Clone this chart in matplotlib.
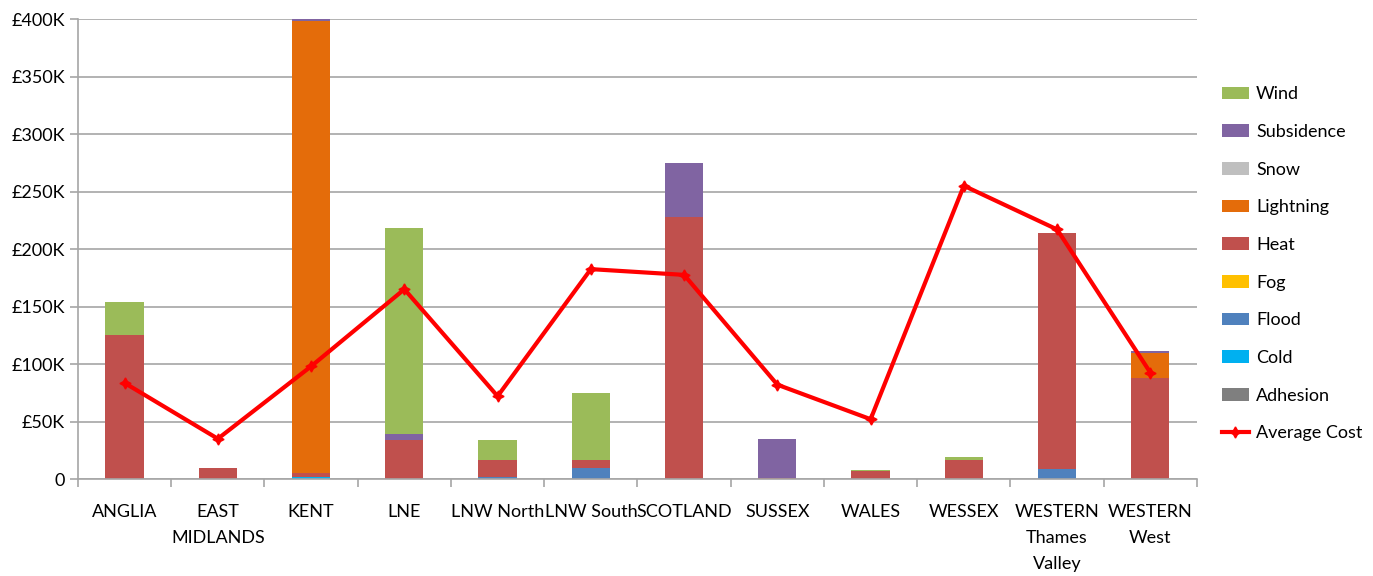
import numpy as np
import matplotlib
matplotlib.use('Agg')
import matplotlib.pyplot as plt
from matplotlib.ticker import FuncFormatter

plt.rcParams['font.family'] = ['Lato', 'DejaVu Sans']

# 地域ごとのコスト (単位: £K)
regions = ['ANGLIA', 'EAST\nMIDLANDS', 'KENT', 'LNE', 'LNW North', 'LNW South',
           'SCOTLAND', 'SUSSEX', 'WALES', 'WESSEX', 'WESTERN\nThames\nValley',
           'WESTERN\nWest']

adhesion   = [0, 0, 0, 0, 0, 0, 0, 0, 0, 0, 0, 0]
cold       = [0, 0, 2, 0, 0, 0, 0, 0, 0, 0, 0, 0]
flood      = [0, 0, 0, 0, 1.5, 10, 0, 0, 0, 0, 8.7, 0]
fog        = [0, 0, 0, 0, 0, 0, 0, 0, 0, 0, 0, 0]
heat       = [125, 10, 3.5, 34, 15, 6.5, 227.5, 1, 7, 16.5, 205, 87.5]
lightning  = [0, 0, 393, 0, 0, 0, 0, 0, 0, 0, 0, 22]
snow       = [0, 0, 0, 0, 0, 0, 0, 0, 0, 0, 0, 0]
subsidence = [0, 0, 2, 5, 0, 0, 47, 34, 0, 0, 0, 2]
wind       = [29, 0, 0, 179, 17, 58, 0, 0, 1, 2.3, 0, 0]

average_cost = [83.5, 35, 98, 165, 72, 182.5, 177.5, 82, 52, 255, 217, 92.5]

series = [
    ('Adhesion', adhesion, '#7F7F7F'),
    ('Cold', cold, '#00B0F0'),
    ('Flood', flood, '#4F81BD'),
    ('Fog', fog, '#FFC000'),
    ('Heat', heat, '#C0504D'),
    ('Lightning', lightning, '#E46C0A'),
    ('Snow', snow, '#BFBFBF'),
    ('Subsidence', subsidence, '#8064A2'),
    ('Wind', wind, '#9BBB59'),
]

fig = plt.figure(figsize=(13.73, 5.76), dpi=100)
ax = fig.add_axes([0.0568, 0.1684, 0.8150, 0.7986])

x = np.arange(len(regions))
bottom = np.zeros(len(regions))
handles = []
for name, vals, color in series:
    b = ax.bar(x, vals, width=0.41, bottom=bottom, color=color, label=name, zorder=2)
    bottom += np.array(vals)
    handles.append(b)

line, = ax.plot(x, average_cost, color='#FF0000', linewidth=3, marker=(4, 1, 0),
                markersize=8, label='Average Cost', zorder=3)

ax.set_xlim(-0.5, len(regions) - 0.5)
ax.set_ylim(0, 400)
ax.set_yticks(np.arange(0, 401, 50))
ax.yaxis.set_major_formatter(FuncFormatter(lambda v, p: '0' if v == 0 else f'£{int(v)}K'))
ax.yaxis.grid(True, color='#A6A6A6', linewidth=1.2, zorder=0)
ax.set_axisbelow(True)

ax.set_xticks(x)
ax.set_xticklabels(regions, fontsize=13, linespacing=1.75, va='top')
ax.set_xticks(np.arange(-0.5, len(regions), 1), minor=True)
ax.tick_params(axis='x', which='major', length=0, pad=18)
ax.tick_params(axis='x', which='minor', length=6, color='#A6A6A6', width=1.2)
ax.tick_params(axis='y', length=6, color='#A6A6A6', width=1.2, labelsize=13)

for s in ['top', 'right']:
    ax.spines[s].set_visible(False)
for s in ['left', 'bottom']:
    ax.spines[s].set_color('#A6A6A6')
    ax.spines[s].set_linewidth(1.2)

leg_handles = handles[::-1] + [line]
leg = fig.legend(leg_handles, [h.get_label() for h in leg_handles],
                 loc='center left', bbox_to_anchor=(0.878, 0.542), frameon=False,
                 fontsize=13, labelspacing=1.2, handlelength=1.5, handletextpad=0.4)

fig.savefig('out.png', dpi=100)
